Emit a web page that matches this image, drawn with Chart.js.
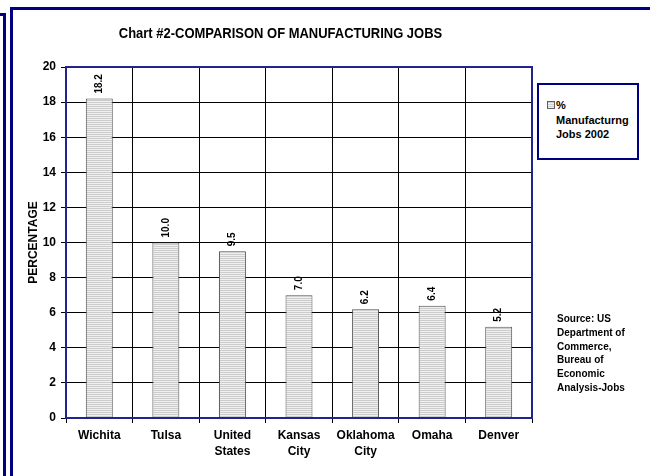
<!DOCTYPE html>
<html>
<head>
<meta charset="utf-8">
<script src="https://cdn.jsdelivr.net/npm/chart.js@4"></script>
<style>
  html, body { margin: 0; padding: 0; background: #fff; }
  body { width: 650px; height: 476px; position: relative; overflow: hidden; font-family: 'Liberation Sans', Arial, sans-serif; }
  #chartWrap { position: absolute; left: 0; top: 0; width: 650px; height: 476px; }
  .frame { position: absolute; box-sizing: border-box; border: 3px solid #000080; }
  #title { position: absolute; left: 0; width: 561px; top: 24px; text-align: center; font-weight: bold; font-size: 15px; line-height: 18px; color: #000; transform: scaleX(0.865); transform-origin: 280.5px 50%; }
  #legend { position: absolute; left: 537px; top: 83px; width: 102px; height: 77px; box-sizing: border-box; border: 2px solid #000080; background: #fff; }
  #legend .sw { position: absolute; left: 8px; top: 16px; width: 8px; height: 8px; box-sizing: border-box; border: 1px solid #606060; background: repeating-linear-gradient(to bottom, #d0d0d0 0 1px, #f2f2f2 1px 2px); }
  #legend .txt { position: absolute; left: 17px; top: 13px; font-weight: bold; font-size: 11px; line-height: 14.5px; color: #000; }
  #source { position: absolute; left: 557px; top: 312px; font-weight: bold; font-size: 10px; line-height: 13.8px; color: #000; }
</style>
</head>
<body>
<div class="frame" style="left:-200px; top:13px; width:206px; height:600px;"></div>
<div class="frame" style="left:10px; top:7px; width:800px; height:600px;"></div>
<div id="chartWrap"><canvas id="c" width="650" height="476"></canvas></div>
<div id="title"></div>
<div id="legend"><div class="sw"></div><div class="txt"></div></div>
<div id="source"></div>
<script>
const chartTitle = 'Chart #2-COMPARISON OF MANUFACTURING JOBS';
const categories = ['Wichita', 'Tulsa', ['United', 'States'], ['Kansas', 'City'], ['Oklahoma', 'City'], 'Omaha', 'Denver'];
const values = [18.2, 10.0, 9.5, 7.0, 6.2, 6.4, 5.2];
const seriesLabelLines = ['%', 'Manufacturng', 'Jobs 2002'];
const yAxisTitle = 'PERCENTAGE';
const yMin = 0, yMax = 20, yStep = 2;
const sourceLines = ['Source: US', 'Department of', 'Commerce,', 'Bureau of', 'Economic', 'Analysis-Jobs'];

document.getElementById('title').textContent = chartTitle;
document.querySelector('#legend .txt').innerHTML = seriesLabelLines.map(s => s.replace(/&/g,'&amp;').replace(/</g,'&lt;')).join('<br>');
document.getElementById('source').innerHTML = sourceLines.map(s => s.replace(/&/g,'&amp;').replace(/</g,'&lt;')).join('<br>');

const FONT = "'Liberation Sans', Arial, sans-serif";
const AXISBLUE = '#23238f';

// striped bar fill
const pc = document.createElement('canvas');
pc.width = 4; pc.height = 2;
const pctx = pc.getContext('2d');
pctx.fillStyle = '#cccccc'; pctx.fillRect(0, 0, 4, 1);
pctx.fillStyle = '#f0f0f0'; pctx.fillRect(0, 1, 4, 1);
const ctx = document.getElementById('c').getContext('2d');
const stripe = ctx.createPattern(pc, 'repeat');

const frameAndLabels = {
  id: 'frameAndLabels',
  afterDatasetsDraw(chart) {
    const c = chart.ctx;
    const meta = chart.getDatasetMeta(0);
    c.save();
    c.font = 'bold 10px ' + FONT;
    c.fillStyle = '#000';
    c.textAlign = 'left';
    c.textBaseline = 'middle';
    meta.data.forEach((bar, i) => {
      c.save();
      c.translate(bar.x, bar.y - 5);
      c.rotate(-Math.PI / 2);
      c.fillText(values[i].toFixed(1), 0, 0);
      c.restore();
    });
    c.restore();
  },
  afterDraw(chart) {
    const a = chart.chartArea;
    const c = chart.ctx;
    c.save();
    c.strokeStyle = AXISBLUE;
    c.lineWidth = 2;
    c.strokeRect(a.left, a.top, a.right - a.left, a.bottom - a.top);
    c.restore();
  }
};

new Chart(ctx, {
  type: 'bar',
  data: {
    labels: categories,
    datasets: [{
      label: seriesLabelLines.join(' '),
      data: values,
      backgroundColor: stripe,
      borderColor: '#505050',
      borderWidth: 1,
      categoryPercentage: 1,
      barPercentage: 0.405
    }]
  },
  options: {
    responsive: false,
    animation: false,
    devicePixelRatio: 1,
    layout: { padding: { left: 20, top: 67, right: 118, bottom: 8 } },
    plugins: {
      legend: { display: false },
      title: { display: false },
      tooltip: { enabled: false }
    },
    scales: {
      x: {
        offset: true,
        grid: { offset: true, color: '#000', lineWidth: 1, tickLength: 5, drawTicks: true },
        border: { color: AXISBLUE, width: 2 },
        ticks: { color: '#000', font: { family: FONT, size: 12, weight: 'bold', lineHeight: 1.3 }, padding: 5, maxRotation: 0, autoSkip: false },
        afterFit(s) { s.height = 50; }
      },
      y: {
        min: yMin, max: yMax,
        grid: { color: '#000', lineWidth: 1, tickLength: 5 },
        border: { color: AXISBLUE, width: 2 },
        ticks: { stepSize: yStep, color: '#000', font: { family: FONT, size: 12, weight: 'bold' }, padding: 5 },
        title: { display: true, text: yAxisTitle, color: '#000', font: { family: FONT, size: 12, weight: 'bold' }, padding: { top: 6, bottom: 0 } },
        afterFit(s) { s.width = 46; }
      }
    }
  },
  plugins: [frameAndLabels]
});
</script>
</body>
</html>
